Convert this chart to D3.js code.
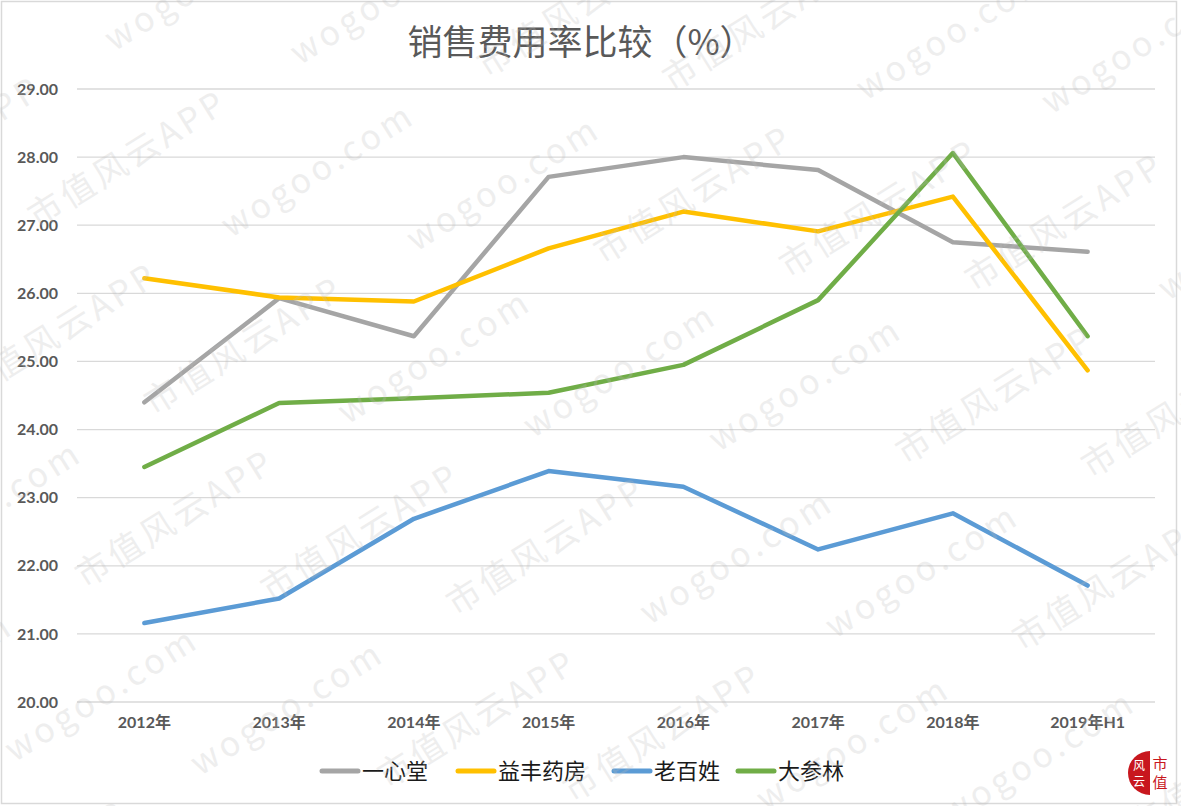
<html>
<head>
  <meta charset="utf-8">
  <title>销售费用率比较</title>
  <script src="https://d3js.org/d3.v7.min.js"></script>
  <style>
    body{ margin:0; background:#fff; }
    .tick text{ font-family: Lato, "Noto Sans CJK SC", sans-serif; font-weight:bold; font-size:16px; fill:#595959; }
    .grid line{ stroke:#d9d9d9; stroke-width:1.3; }
    .series path{ fill:none; stroke-width:4.5; stroke-linejoin:round; stroke-linecap:round; }
    .legend text{ font-family:"Noto Sans CJK SC", sans-serif; font-size:22px; fill:#1a1a1a; }
    .wm text{ font-family:"Noto Sans CJK SC", Lato, sans-serif; font-size:34px; fill:#bdbdbd; opacity:0.25; letter-spacing:4px; }
  </style>
</head>
<body>
<script>
var years = ["2012年","2013年","2014年","2015年","2016年","2017年","2018年","2019年H1"];
var names = ["一心堂","益丰药房","老百姓","大参林"];
var colors = ["#A5A5A5","#FFC000","#5B9BD5","#70AD47"];
var yixintang = [24.40, 25.93, 25.37, 27.71, 28.00, 27.81, 26.75, 26.61];
var yifeng    = [26.22, 25.94, 25.88, 26.66, 27.20, 26.91, 27.42, 24.87];
var laobaixing= [21.16, 21.52, 22.69, 23.39, 23.16, 22.24, 22.77, 21.71];
var dashenlin = [23.45, 24.39, 24.46, 24.54, 24.95, 25.90, 28.06, 25.37];
var yTicks = [20,21,22,23,24,25,26,27,28,29];

var series = [yixintang, yifeng, laobaixing, dashenlin];

var width = 1181, height = 806;

var svg = d3.select("body").append("svg")
  .attr("width", width)
  .attr("height", height);

// border
svg.append("rect")
  .attr("x", 1.5).attr("y", 1.5)
  .attr("width", 1175).attr("height", 802)
  .attr("fill", "#fff").attr("stroke", "#d9d9d9").attr("stroke-width", 1.5);

var x = d3.scaleBand().domain(years).range([77, 1155]);
var y = d3.scaleLinear().domain([20, 29]).range([702, 89]);

// title
svg.append("text")
  .attr("x", 581).attr("y", 55)
  .attr("text-anchor", "middle")
  .style("font-family", "'Noto Sans CJK SC', sans-serif")
  .style("font-size", "35px")
  .style("fill", "#595959")
  .text("销售费用率比较（%）");

// grid
svg.append("g").attr("class", "grid")
  .selectAll("line").data(yTicks).enter().append("line")
  .attr("x1", 77).attr("x2", 1155)
  .attr("y1", function(d){ return y(d); })
  .attr("y2", function(d){ return y(d); });

var yAxis = svg.append("g")
  .attr("transform", "translate(66,0)")
  .call(d3.axisLeft(y).tickValues(yTicks).tickFormat(d3.format(".2f")).tickSize(0).tickPadding(8));
yAxis.select(".domain").remove();

var xAxis = svg.append("g")
  .attr("transform", "translate(0,702)")
  .call(d3.axisBottom(x).tickSize(0).tickPadding(15));
xAxis.select(".domain").remove();

var line = d3.line()
  .x(function(d, i){ return x(years[i]) + x.bandwidth() / 2; })
  .y(function(d){ return y(d); });

svg.append("g").attr("class", "series")
  .selectAll("path").data(series).enter().append("path")
  .attr("stroke", function(d, i){ return colors[i]; })
  .attr("d", line);

// legend
var legendX = [322, 458, 614, 738];
var legend = svg.append("g").attr("class", "legend")
  .selectAll("g").data(names).enter().append("g")
  .attr("transform", function(d, i){ return "translate(" + legendX[i] + ",771)"; });
legend.append("line")
  .attr("x1", 0).attr("x2", 36).attr("y1", 0).attr("y2", 0)
  .attr("stroke", function(d, i){ return colors[i]; })
  .attr("stroke-width", 5).attr("stroke-linecap", "round");
legend.append("text")
  .attr("x", 40).attr("y", 8)
  .text(function(d){ return d; });

// logo
var logo = svg.append("g").attr("transform", "translate(1150,773)");
logo.append("path")
  .attr("d", d3.arc()({ innerRadius: 0, outerRadius: 22, startAngle: Math.PI, endAngle: 2 * Math.PI }))
  .attr("fill", "#c8171e");
logo.append("text").attr("x", -11).attr("y", -3).attr("text-anchor", "middle")
  .style("font-family", "'Noto Sans CJK SC', serif").style("font-size", "12px").style("fill", "#fff").text("风");
logo.append("text").attr("x", -11).attr("y", 13).attr("text-anchor", "middle")
  .style("font-family", "'Noto Sans CJK SC', serif").style("font-size", "12px").style("fill", "#fff").text("云");
logo.append("text").attr("x", 10).attr("y", -4).attr("text-anchor", "middle")
  .style("font-family", "'Noto Sans CJK SC', serif").style("font-size", "15px").style("fill", "#c8171e").text("市");
logo.append("text").attr("x", 10).attr("y", 15).attr("text-anchor", "middle")
  .style("font-family", "'Noto Sans CJK SC', serif").style("font-size", "15px").style("fill", "#c8171e").text("值");

// watermark
var wm = svg.append("g").attr("class", "wm")
  .attr("transform", "rotate(-32,590,403)");
var wmRows = d3.range(-7, 9);
wm.selectAll("text").data(wmRows).enter().append("text")
  .attr("x", function(d){ return -700 + (d % 2) * 150; })
  .attr("y", function(d){ return 403 + d * 110; })
  .text("wogoo.com       市值风云APP       wogoo.com       市值风云APP       wogoo.com       市值风云APP       wogoo.com       市值风云APP       wogoo.com       市值风云APP")
  .style("white-space", "pre");
</script>
</body>
</html>
